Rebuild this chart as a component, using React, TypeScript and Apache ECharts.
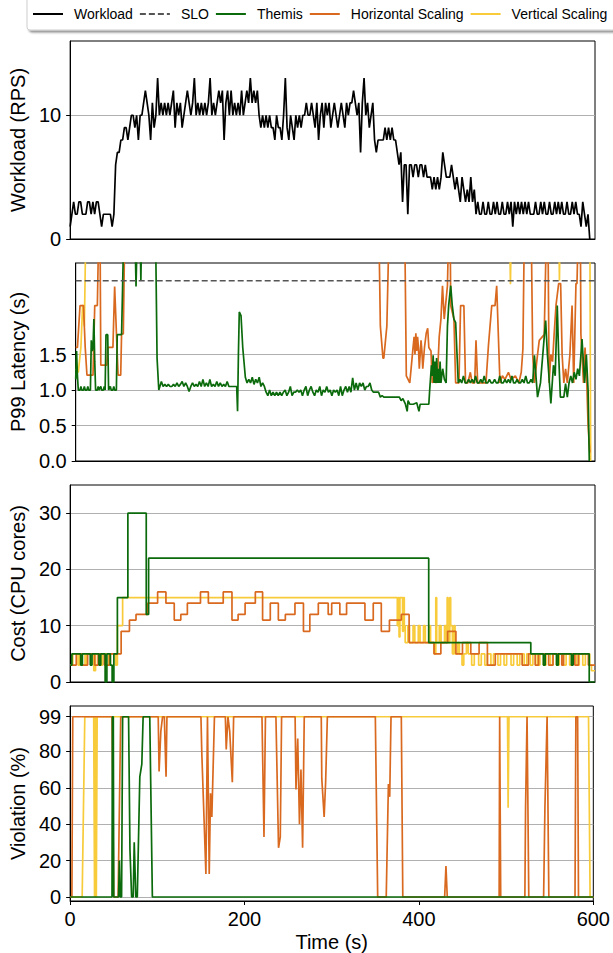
import React, { useEffect, useRef } from "react";
import * as echarts from "echarts";

const FONT = "'Liberation Sans', Arial, sans-serif";

const LEGEND_NAMES = ["Workload", "SLO", "Themis", "Horizontal Scaling", "Vertical Scaling"];
const TIME_TICKS = [0, 200, 400, 600];
const WORKLOAD_TICKS = [0, 10];
const LATENCY_TICKS = [0, 0.5, 1.0, 1.5];
const COST_TICKS = [0, 10, 20, 30];
const VIOLATION_TICKS = [0, 20, 40, 60, 80, 99];
const SLO = 2.54;

// Workload (RPS), one value every 2 s starting at t = 0
const WORKLOAD_STEP = 2;
const workload = [
  1,
  2, 3, 2, 2, 3, 3, 2, 2, 2, 3, 3, 2, 3, 2, 3, 3, 2, 1, 2, 2, 2, 2, 2, 1, 2,
  6, 7, 7, 8, 8, 9, 9, 8, 9, 10, 10, 9, 10, 8, 10, 10, 11, 12, 11, 10, 8, 11, 9, 10, 13,
  10, 11, 10, 11, 10, 11, 10, 11, 12, 9, 11, 10, 11, 9, 10, 11, 12, 11, 10, 11, 13, 10, 11, 10, 11,
  10, 11, 10, 11, 13, 10, 11, 10, 11, 12, 11, 12, 8, 11, 12, 10, 12, 10, 11, 10, 11, 10, 12, 10, 11,
  12, 11, 13, 11, 12, 11, 12, 10, 9, 10, 9, 10, 9, 10, 9, 9, 8, 10, 9, 9, 8, 10, 13, 9, 8,
  10, 9, 8, 10, 9, 10, 9, 10, 10, 11, 10, 10, 11, 10, 9, 11, 8, 10, 11, 9, 11, 10, 11, 9, 10,
  11, 10, 9, 10, 11, 10, 9, 11, 10, 11, 11, 12, 11, 10, 11, 7, 11, 13, 10, 11, 9, 10, 11, 8, 7,
  8, 8, 8, 8, 9, 8, 9, 8, 9, 8, 8, 7, 6, 7, 3, 6, 6, 2, 6, 6, 5, 6, 6, 5, 6,
  6, 5, 6, 5, 5, 5, 4, 5, 4, 5, 4, 5, 7, 6, 5, 5, 5, 6, 5, 4, 5, 4, 3, 5, 4,
  3, 4, 3, 5, 3, 4, 2, 3, 2, 2, 3, 2, 2, 3, 2, 2, 3, 2, 3, 2, 2, 3, 2, 2, 3,
  2, 3, 1, 3, 2, 3, 2, 3, 2, 3, 2, 3, 2, 2, 2, 3, 2, 2, 3, 2, 3, 2, 2, 3, 2,
  2, 3, 2, 3, 2, 3, 2, 2, 3, 2, 2, 3, 2, 3, 2, 2, 1, 3, 2, 1, 2, 0,
];

// P99 latency (s): [time, value]
const latencyThemis = [
  [0, 1.15], [1, 1.55], [2, 1.2], [3, 1.0], [5, 1.0], [6, 1.05], [7, 1.0], [9, 1.0], [10, 1.05], [11, 1.0],
  [13, 1.0], [14, 1.05], [15, 1.0], [17, 1.0], [18, 1.7], [19, 1.55], [20, 1.6], [21, 2.0], [22, 1.4], [23, 1.0],
  [25, 1.0], [26, 1.05], [27, 1.0], [29, 1.05], [30, 1.0], [32, 1.0], [33, 1.05], [34, 1.0], [35, 1.78], [37, 1.78],
  [38, 1.0], [40, 1.05], [41, 1.0], [43, 1.0], [44, 1.05], [45, 1.0], [47, 1.0], [48, 1.78], [53, 1.78], [56, 3.5],
  [68, 3.5], [69.7, 2.46], [71.6, 3.5], [74, 3.5], [75.3, 2.54], [76.5, 3.5], [92, 3.5], [94, 1.45], [96, 1.0],
  [99, 1.12], [101, 1.05], [103, 1.08], [105, 1.05], [107, 1.08], [109, 1.05], [111, 1.05], [113, 1.08], [115, 1.05],
  [117, 1.1], [119, 1.05], [121, 1.08], [123, 1.12], [125, 1.05], [127, 1.1], [129, 1.05], [131, 0.98], [133, 1.05],
  [135, 1.1], [137, 1.05], [139, 1.08], [141, 1.05], [143, 1.12], [145, 1.05], [147, 1.15], [149, 1.05], [151, 1.1],
  [153, 1.05], [155, 1.15], [157, 1.05], [159, 1.08], [161, 1.05], [163, 1.12], [165, 1.05], [167, 1.1], [169, 1.05],
  [171, 1.08], [173, 1.05], [175, 1.12], [177, 1.05], [179, 1.05], [181, 1.05], [183, 1.05], [186, 1.05], [187, 0.7],
  [188, 1.5], [189, 2.1], [191, 2.05], [193, 1.6], [196, 1.18], [198, 1.1], [200, 1.15], [202, 1.1], [204, 1.18],
  [206, 1.08], [208, 1.15], [210, 1.1], [212, 1.18], [214, 1.05], [216, 1.1], [218, 1.05], [220, 0.97], [222, 0.92],
  [224, 1.0], [226, 0.92], [228, 0.97], [230, 0.92], [232, 0.97], [234, 0.92], [236, 0.97], [238, 0.92], [240, 0.97],
  [242, 1.0], [244, 0.92], [246, 0.97], [248, 1.05], [250, 0.92], [252, 0.97], [254, 0.97], [256, 1.0], [258, 0.97],
  [260, 1.0], [262, 0.92], [264, 1.0], [266, 1.05], [268, 0.92], [270, 1.0], [272, 1.05], [274, 0.97], [276, 0.92],
  [278, 1.0], [280, 0.97], [282, 1.05], [284, 0.92], [286, 1.0], [288, 0.97], [290, 1.05], [292, 0.97], [294, 1.0],
  [296, 0.92], [298, 1.0], [300, 0.97], [302, 1.0], [304, 0.92], [306, 1.05], [308, 0.92], [310, 1.0], [312, 1.05],
  [314, 0.97], [316, 1.05], [318, 0.97], [320, 1.17], [322, 1.0], [324, 1.1], [326, 1.0], [328, 1.1], [330, 1.05],
  [332, 1.1], [334, 1.0], [336, 1.05], [338, 1.05], [340, 1.1], [342, 1.0], [344, 0.97], [350, 0.97], [352, 0.9],
  [354, 0.92], [356, 0.9], [370, 0.9], [374, 0.9], [376, 0.85], [378, 0.88], [381, 0.8], [383, 0.7], [384, 0.85],
  [386, 0.8], [390, 0.8], [394, 0.82], [396.6, 0.7], [398, 0.8], [408, 0.8], [409, 1.0], [411, 1.35], [412, 1.2],
  [413, 1.49], [414, 1.1], [415, 1.4], [416, 1.1], [417, 1.45], [418, 1.1], [419, 1.3], [420, 1.1], [421, 1.4],
  [422, 1.1], [424, 1.3], [426, 1.15], [428, 1.1], [429.5, 1.9], [431, 2.2], [433.3, 2.47], [435, 2.2], [437, 2.0],
  [439, 1.95], [442, 1.1], [444, 1.15], [446, 1.1], [448, 1.2], [450, 1.1], [452, 1.1], [454, 1.15], [456, 1.1],
  [458, 1.15], [460, 1.1], [462, 1.2], [464, 1.1], [466, 1.1], [468, 1.15], [470, 1.1], [472, 1.2], [474, 1.1],
  [476, 1.1], [478, 1.15], [480, 1.1], [482, 1.1], [484, 1.15], [486, 1.1], [488, 1.1], [490, 1.2], [492, 1.1],
  [494, 1.1], [496, 1.15], [498, 1.1], [500, 1.15], [502, 1.1], [504, 1.2], [506, 1.1], [508, 1.1], [510, 1.15],
  [512, 1.1], [514, 1.1], [516, 1.15], [518, 1.1], [520, 1.2], [522, 1.1], [524, 1.1], [526, 1.15], [528, 1.1],
  [530, 1.49], [533.6, 0.9], [537, 1.1], [541.5, 1.77], [543, 1.98], [545, 1.5], [549, 0.81], [552, 1.35], [554, 1.2],
  [556.4, 2.19], [558, 1.5], [560, 0.9], [564, 0.9], [566, 1.09], [568, 0.9], [570, 1.1], [572, 1.2], [574, 1.1],
  [576, 1.25], [578, 1.15], [580, 1.3], [582, 1.2], [585, 1.72], [588, 1.1], [590, 1.5], [592, 1.0], [593.4, 0.0],
];
const latencyHorizontal = [
  [0, 1.6], [2, 1.6], [5, 2.19], [9, 2.19], [11, 1.6], [13, 1.21], [20, 1.21], [22, 2.19], [25, 2.19], [27, 3.5],
  [28, 3.5], [29, 1.35], [36, 1.35], [37, 1.6], [43, 1.6], [45, 2.46], [48, 1.5], [49, 1.21], [52, 1.21], [53, 1.79],
  [55, 1.79], [57, 3.5], [350, 3.5], [352, 1.9], [355, 1.45], [356, 1.45], [359.5, 1.9], [362.5, 3.5], [380, 3.5],
  [382, 1.2], [384, 1.15], [386, 1.1], [389.8, 1.6], [391, 1.75], [392, 1.5], [393, 1.8], [394, 1.55], [395, 1.75],
  [396, 1.6], [397, 1.3], [399, 1.7], [400, 1.55], [401, 1.3], [403, 1.6], [405, 1.8], [406.7, 1.87], [408, 1.6],
  [410.5, 1.55], [412, 1.1], [414, 1.15], [416, 1.1], [418, 1.2], [420, 1.75], [422, 2.0], [423.8, 2.47], [425.8, 2.0],
  [429.5, 2.47], [431.4, 3.5], [432.5, 3.5], [433.3, 2.19], [437, 2.0], [439, 1.1], [442.8, 1.1], [444.7, 2.19],
  [448.5, 2.19], [450.4, 1.1], [453, 1.1], [456, 1.25], [458, 1.1], [461, 1.1], [462.5, 1.7], [464.4, 1.1],
  [474, 1.1], [476.9, 1.63], [480.7, 2.19], [484.5, 2.19], [486.4, 2.47], [490.2, 1.1], [493, 1.2], [496, 1.15],
  [500, 1.25], [503, 1.15], [508, 1.2], [512, 1.1], [514.8, 1.25], [516.7, 1.58], [518.6, 3.5], [526.1, 3.5],
  [528, 1.5], [530, 1.1], [533.6, 1.5], [535.6, 1.7], [541.3, 1.78], [544.3, 3.5], [545.5, 3.5], [547, 1.1],
  [549, 1.5], [551, 1.4], [552.7, 1.77], [555, 2.2], [558, 2.5], [560.3, 2.5], [562, 1.5], [564, 1.1], [566, 1.3],
  [568, 1.1], [571, 1.5], [573.5, 2.19], [575.4, 1.1], [578, 2.5], [579.2, 2.5], [581, 3.5], [583, 3.5],
  [583.7, 1.79], [586.7, 1.1], [588.5, 1.6], [590.5, 1.1], [592, 0.5], [594, 0.12],
];
const latencyVertical = [
  [0, 1.3], [3, 1.25], [6, 1.6], [8, 2.2], [10, 1.9], [12, 3.5], [501, 3.5], [502.3, 2.49], [503.5, 3.5],
  [558, 3.5], [558.9, 2.54], [560, 3.5], [594, 3.5], [595, 0.0],
];

// Cost (CPU cores): [time, value], held until the next point
const costThemis = [
  [0, 3], [2, 5], [12, 3], [14, 5], [23, 3], [25, 5], [33, 3], [35, 5], [40, 0], [42, 5], [46, 3], [48, 0],
  [50, 5], [54, 15], [66, 30], [87, 12], [89.7, 22], [409.9, 7], [526.6, 5], [541, 3], [543, 5], [556, 3],
  [558, 5], [573, 3], [575, 5], [593.4, 0], [600, 0],
];
const costHorizontal = [
  [0, 3], [7, 5], [13, 3], [20, 5], [28, 3], [32, 5], [39, 3], [45, 5], [58.3, 9], [67.8, 11], [75.3, 12],
  [88.6, 14], [100, 16], [109.5, 14], [119, 11], [126.5, 12], [134, 14], [149, 16], [158, 14], [175, 16],
  [185, 11], [192, 12], [200, 14], [211.7, 16], [220, 11], [228.8, 14], [238, 11], [246, 12], [257, 14],
  [266.7, 9], [274, 12], [283.7, 14], [295, 12], [299, 14], [308.3, 12], [316, 14], [337, 11], [346.5, 14],
  [355.7, 9], [365, 11], [378.6, 12], [387.5, 7], [416, 5], [423.8, 7], [431.5, 9], [441, 5], [448.5, 7],
  [458, 5], [467.5, 7], [477, 3], [486, 5], [516.7, 3], [524, 5], [531.6, 3], [535.4, 5], [547, 3], [552, 5],
  [562, 3], [564, 5], [577, 3], [581, 5], [592.4, 3], [600, 3],
];
const costVertical = [
  [0, 3], [3, 5], [9, 3], [11, 5], [17, 3], [19, 5], [27, 2], [29, 5], [35, 3], [37, 5], [44, 3], [46, 5],
  [52, 3], [54, 10], [58, 10], [60, 15], [373, 15], [374, 10], [375, 15], [376, 8], [377, 15], [380, 9],
  [381, 15], [382, 10], [383, 7], [386, 10], [388, 7], [392, 10], [394, 7], [398, 10], [400, 7], [404, 10],
  [406, 7], [410, 10], [412, 7], [416, 5], [418, 15], [419, 7], [422, 10], [424, 7], [428, 10], [430, 7],
  [431, 15], [432, 7], [434, 15], [435, 10], [437, 5], [439, 10], [440, 5], [443, 7], [445, 5], [448, 3],
  [450, 5], [453, 7], [455, 5], [459, 3], [462, 5], [467, 3], [470, 5], [474, 3], [477, 5], [481, 3],
  [484, 5], [489, 3], [492, 5], [496, 3], [499, 5], [504, 3], [507, 5], [511, 3], [514, 5], [519, 3],
  [522, 5], [526, 3], [529, 5], [534, 3], [537, 5], [541, 3], [544, 5], [549, 3], [552, 5], [556, 3],
  [559, 5], [564, 3], [567, 5], [571, 3], [574, 5], [579, 3], [582, 5], [586, 3], [589, 5], [594, 3],
  [596, 2], [600, 2],
];

// Violation (%): [time, value]
const violationThemis = [
  [0, 0], [48, 0], [48.5, 99], [49.5, 99], [50, 0], [55.5, 0], [56.5, 20], [57.5, 0], [59, 0], [60.2, 99],
  [67, 99], [68.6, 26], [70.5, 0], [72.3, 0], [73.5, 30], [75.3, 0], [77, 0], [79.9, 66], [82.2, 73],
  [83.7, 99], [91.3, 99], [94.3, 0], [600, 0],
];
const violationHorizontal = [
  [0, 0], [2, 0], [3, 99], [48, 99], [50, 0], [55, 0], [58, 99], [101, 99], [102, 69], [104, 91], [106, 99],
  [108, 99], [110, 66], [111, 99], [150, 99], [151, 79], [155.7, 12.6], [157.5, 99], [159.5, 12.6], [161, 57],
  [162.5, 44], [165.5, 99], [178, 99], [179, 81], [181, 99], [183, 91], [186, 63], [187.5, 99], [220, 99],
  [222.3, 33], [224, 99], [236, 99], [239, 27], [241, 33], [242.5, 99], [258, 99], [259, 59], [261, 87],
  [263, 40], [264.7, 70], [266.6, 27], [268.5, 99], [288, 99], [288.6, 65], [291.3, 44], [293, 63], [295, 99],
  [350, 99], [352.7, 0], [362.5, 0], [365, 62], [366.5, 55], [368, 99], [379.8, 99], [381.5, 0], [429.5, 0],
  [431, 17], [432.5, 0], [492, 0], [492.6, 99], [493.8, 0], [521.5, 0], [522.3, 49], [524, 99], [526, 0],
  [543, 0], [544.5, 49], [547, 99], [549, 0], [579, 0], [580, 99], [582, 99], [583, 0], [600, 0],
];
const violationVertical = [
  [0, 0], [13.8, 0], [16.8, 99], [27, 99], [28, 0], [29, 99], [30, 0], [31, 99], [501.6, 99], [502.3, 49],
  [503.3, 99], [594.5, 99], [596.3, 0], [600, 0],
];

const COLORS = {
  workload: "#000000",
  slo: "#555555",
  themis: "#0b6a0b",
  horizontal: "#d9691f",
  vertical: "#f8cb3a",
};

function yAxis(gridIndex: number, min: number, max: number, ticks: number[], name: string, nameGap: number, digits: number) {
  return {
    type: "value",
    gridIndex,
    min,
    max,
    name,
    nameLocation: "middle",
    nameGap,
    nameTextStyle: { fontSize: 20, color: "#000", fontFamily: FONT },
    axisLine: { show: true, lineStyle: { color: "#000", width: 1 } },
    axisTick: { show: true, length: 4, inside: false, customValues: ticks, lineStyle: { color: "#000", width: 1 } },
    axisLabel: {
      customValues: ticks,
      fontSize: 20,
      color: "#000",
      margin: 9,
      fontFamily: FONT,
      formatter: (v: number) => v.toFixed(digits),
    },
    splitLine: { show: true, lineStyle: { color: "#b0b0b0", width: 1 } },
  };
}

function line(name: string, gridIndex: number, data: number[][], color: string, z: number, step?: string) {
  return {
    type: "line",
    name,
    xAxisIndex: gridIndex,
    yAxisIndex: gridIndex,
    data,
    symbol: "none",
    showSymbol: false,
    step: step || false,
    z,
    clip: true,
    lineStyle: { color, width: 1.7 },
    itemStyle: { color },
    emphasis: { disabled: true },
  };
}

export default function App() {
  const ref = useRef<HTMLDivElement>(null);
  useEffect(() => {
    const chart = echarts.init(ref.current!, null, { renderer: "svg" });
    const gridTops = [41, 263, 485, 706];
    const gridHeights = [198, 198, 197, 198];
    const option = {
      animation: false,
      backgroundColor: "#fff",
      textStyle: { fontFamily: FONT },
      legend: {
        left: 27,
        top: -3,
        width: 700,
        itemWidth: 30,
        itemHeight: 14,
        itemGap: 6,
        padding: [10, 8, 9, 5],
        data: LEGEND_NAMES,
        itemStyle: { opacity: 0 },
        textStyle: { fontSize: 14, color: "#000", fontFamily: FONT, padding: [0, 0, 0, 6] },
        backgroundColor: "#fff",
        borderColor: "#cfcfcf",
        borderWidth: 1,
        borderRadius: 3,
        shadowColor: "rgba(0,0,0,0.45)",
        shadowBlur: 2,
        shadowOffsetX: 2,
        shadowOffsetY: 2,
        selectedMode: false,
      },
      grid: gridTops.map((top, i) => ({
        left: 67,
        width: 528,
        top,
        height: gridHeights[i],
        show: true,
        borderColor: "#000",
        borderWidth: 1,
        backgroundColor: "transparent",
      })),
      xAxis: [0, 1, 2, 3].map((i) => ({
        type: "value",
        gridIndex: i,
        min: 0,
        max: 600,
        interval: 200,
        axisLine: { show: true, onZero: false, lineStyle: { color: "#000", width: 1 } },
        splitLine: { show: false },
        axisTick: { show: i === 3, length: 4, customValues: TIME_TICKS, lineStyle: { color: "#000" } },
        axisLabel: {
          show: i === 3,
          customValues: TIME_TICKS,
          fontSize: 20,
          color: "#000",
          margin: 8,
          fontFamily: FONT,
        },
        name: i === 3 ? "Time (s)" : "",
        nameLocation: "middle",
        nameGap: 31,
        nameTextStyle: { fontSize: 20, color: "#000", fontFamily: FONT },
      })),
      yAxis: [
        yAxis(0, 0, 16, WORKLOAD_TICKS, "Workload (RPS)", 30, 0),
        yAxis(1, 0, 2.79, LATENCY_TICKS, "P99 Latency (s)", 43, 1),
        yAxis(2, 0, 35, COST_TICKS, "Cost (CPU cores)", 30, 0),
        yAxis(3, -2.2, 104.9, VIOLATION_TICKS, "Violation (%)", 30, 0),
      ],
      series: [
        line("Workload", 0, workload.map((v, i) => [i * WORKLOAD_STEP, v]), COLORS.workload, 5),
        {
          ...line("SLO", 1, [[0, SLO], [600, SLO]], COLORS.slo, 6),
          lineStyle: { color: COLORS.slo, width: 1.5, type: [6, 3] },
        },
        line("Vertical Scaling", 1, latencyVertical, COLORS.vertical, 2),
        line("Horizontal Scaling", 1, latencyHorizontal, COLORS.horizontal, 3),
        line("Themis", 1, latencyThemis, COLORS.themis, 4),
        line("Vertical Scaling", 2, costVertical, COLORS.vertical, 2, "end"),
        line("Horizontal Scaling", 2, costHorizontal, COLORS.horizontal, 3, "end"),
        line("Themis", 2, costThemis, COLORS.themis, 4, "end"),
        line("Vertical Scaling", 3, violationVertical, COLORS.vertical, 2),
        line("Horizontal Scaling", 3, violationHorizontal, COLORS.horizontal, 3),
        line("Themis", 3, violationThemis, COLORS.themis, 4),
      ],
    };
    chart.setOption(option as any);
    return () => chart.dispose();
  }, []);
  return (
    <div
      ref={ref}
      style={{ position: "fixed", left: 0, top: 0, width: 613, height: 953, background: "#fff" }}
    />
  );
}
